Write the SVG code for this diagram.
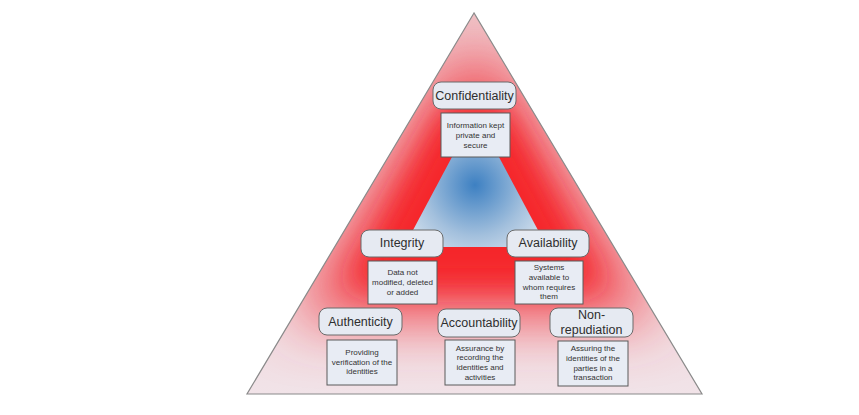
<svg xmlns="http://www.w3.org/2000/svg" width="859" height="415" viewBox="0 0 859 415">
<defs>
<style>
.t{font-family:"Liberation Sans",Arial,sans-serif;font-size:12.5px;fill:#2e2e2e;text-anchor:middle}
.d{font-family:"Liberation Sans",Arial,sans-serif;font-size:8px;fill:#333;text-anchor:middle}
.tb{fill:#e6eaf2;stroke:#6a6a6a;stroke-width:1}
.db{fill:#e8ecf4;stroke:#5a5a5a;stroke-width:1}
</style>
<linearGradient id="base" x1="0" y1="0" x2="0" y2="1">
<stop offset="0" stop-color="#efc2c7"/>
<stop offset="0.5" stop-color="#f1cfd4"/>
<stop offset="1" stop-color="#f1e3e8"/>
</linearGradient>
<radialGradient id="blue" cx="475" cy="185" r="85" gradientUnits="userSpaceOnUse">
<stop offset="0" stop-color="#3d80c2"/>
<stop offset="0.6" stop-color="#a3c0dd"/>
<stop offset="1" stop-color="#d8e3ef"/>
</radialGradient>
<filter id="blur" x="-50%" y="-50%" width="200%" height="200%">
<feGaussianBlur stdDeviation="30"/>
</filter>
<filter id="blur2" x="-50%" y="-50%" width="200%" height="200%">
<feGaussianBlur stdDeviation="14"/>
</filter>
<clipPath id="tri">
<polygon points="474,13 247,394 702,394"/>
</clipPath>
</defs>
<rect width="859" height="415" fill="#ffffff"/>
<g id="pyramid">
<polygon points="474,13 247,394 702,394" fill="url(#base)"/>
<g clip-path="url(#tri)">
<polygon points="455,60 495,60 660,318 290,318" fill="#f2454d" filter="url(#blur)"/>
<polygon points="445,110 505,110 600,285 350,285" fill="#f5262b" filter="url(#blur2)"/>
</g>
<polygon points="474,13 247,394 702,394" fill="none" stroke="#8a8a8a" stroke-width="1.2"/>
<polygon id="core" points="452,157 499,157 547,247 404,247" fill="url(#blue)"/>
</g>
<g id="connectors"></g>
<g id="confidentiality">
<rect class="tb" x="433" y="82" width="83" height="27" rx="8"/>
<text class="t" x="474.5" y="100">Confidentiality</text>
<rect class="db" x="441" y="113" width="69" height="44"/>
<text class="d" x="475.5" y="128">Information kept</text>
<text class="d" x="475.5" y="138">private and</text>
<text class="d" x="475.5" y="148">secure</text>
</g>
<g id="integrity">
<rect class="tb" x="361" y="230" width="82" height="27" rx="8"/>
<text class="t" x="402" y="247">Integrity</text>
<rect class="db" x="368" y="261" width="69" height="43"/>
<text class="d" x="402.5" y="275">Data not</text>
<text class="d" x="402.5" y="285">modified, deleted</text>
<text class="d" x="402.5" y="295">or added</text>
</g>
<g id="availability">
<rect class="tb" x="507" y="230" width="82" height="27" rx="8"/>
<text class="t" x="548" y="247">Availability</text>
<rect class="db" x="515" y="261" width="68" height="43"/>
<text class="d" x="549" y="270">Systems</text>
<text class="d" x="549" y="280">available to</text>
<text class="d" x="549" y="290">whom requires</text>
<text class="d" x="549" y="299">them</text>
</g>
<g id="authenticity">
<rect class="tb" x="319" y="308" width="83" height="27" rx="8"/>
<text class="t" x="360.5" y="326">Authenticity</text>
<rect class="db" x="327" y="340" width="70" height="45"/>
<text class="d" x="362" y="355">Providing</text>
<text class="d" x="362" y="365">verification of the</text>
<text class="d" x="362" y="374">identities</text>
</g>
<g id="accountability">
<rect class="tb" x="438" y="309" width="82" height="28" rx="8"/>
<text class="t" x="479" y="327">Accountability</text>
<rect class="db" x="445" y="340" width="70" height="45"/>
<text class="d" x="480" y="351">Assurance by</text>
<text class="d" x="480" y="360">recording the</text>
<text class="d" x="480" y="370">identities and</text>
<text class="d" x="480" y="380">activities</text>
</g>
<g id="nonrepudiation">
<rect class="tb" x="550" y="308" width="83" height="29" rx="8"/>
<text class="t" x="591.5" y="319">Non-</text>
<text class="t" x="591.5" y="334">repudiation</text>
<rect class="db" x="558" y="341" width="70" height="45"/>
<text class="d" x="593" y="351">Assuring the</text>
<text class="d" x="593" y="361">identities of the</text>
<text class="d" x="593" y="371">parties in a</text>
<text class="d" x="593" y="380">transaction</text>
</g>
</svg>
